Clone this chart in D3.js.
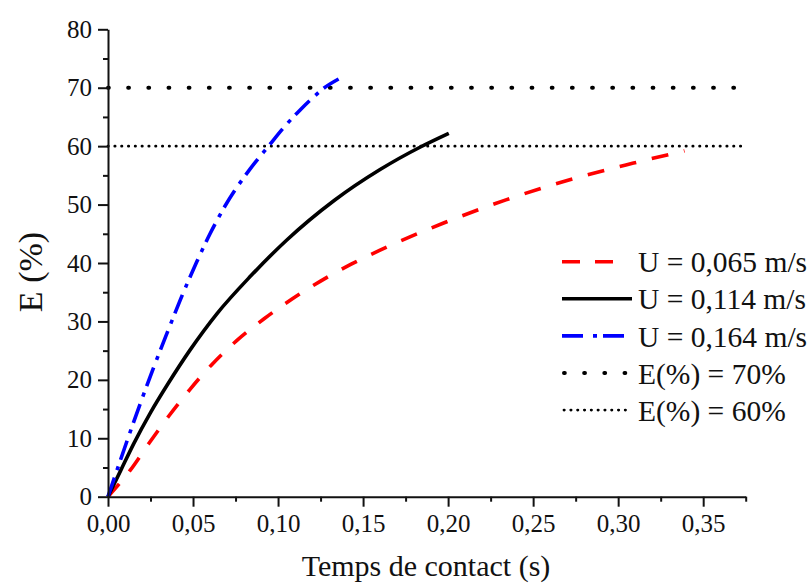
<!DOCTYPE html>
<html>
<head>
<meta charset="utf-8">
<script src="https://cdn.jsdelivr.net/npm/d3@7"></script>
<style>
  html, body { margin: 0; padding: 0; background: #fff; }
  svg { display: block; }
  svg text { font-family: "Liberation Serif", "Times New Roman", serif !important; fill: #111; }
</style>
</head>
<body>
<svg id="chart" width="812" height="583"></svg>
<script>
// ---- data ----
const seriesNames = ["U = 0,065 m/s", "U = 0,114 m/s", "U = 0,164 m/s"];
const refNames = ["E(%) = 70%", "E(%) = 60%"];
const refValues = [70, 60];

const tRed = [0, 0.013, 0.024, 0.036, 0.048, 0.061, 0.076, 0.092, 0.108, 0.125, 0.143, 0.160, 0.197, 0.234, 0.272, 0.309, 0.339];
const eRed = [0, 4.5, 9.1, 13.9, 18.3, 22.6, 26.8, 30.5, 33.8, 36.9, 39.8, 42.2, 46.8, 50.8, 54.3, 57.1, 59.2];

const tBlack = [0, 0.0075, 0.015, 0.025, 0.035, 0.048, 0.064, 0.084, 0.105, 0.133, 0.160, 0.184, 0.2004];
const eBlack = [0, 4.5, 9.0, 14.4, 19.2, 25.0, 31.3, 37.8, 43.9, 50.7, 56.0, 59.9, 62.2];

const tBlue = [0, 0.007, 0.0139, 0.0198, 0.0267, 0.0346, 0.0424, 0.0522, 0.060, 0.0689, 0.0836, 0.0944, 0.104, 0.113, 0.1205, 0.1268, 0.1356];
const eBlue = [0, 6.0, 11.8, 16.6, 22.0, 27.9, 33.6, 40.2, 45.0, 49.8, 56.1, 60.0, 63.4, 66.2, 68.3, 69.9, 71.5];

const xMajorTicks = [0, 0.05, 0.10, 0.15, 0.20, 0.25, 0.30, 0.35];
const xMinorTicks = [0.025, 0.075, 0.125, 0.175, 0.225, 0.275, 0.325, 0.375];
const yMajorTicks = [0, 10, 20, 30, 40, 50, 60, 70, 80];
const yMinorTicks = [5, 15, 25, 35, 45, 55, 65, 75];

const xLabel = "Temps de contact (s)";
const yLabel = "E (%)";

// ---- layout ----
const FONT = '"Liberation Serif", "Times New Roman", serif';
const svg = d3.select("#chart");
const mLeft = 108, mRight = 745.7, mTop = 29.3, mBottom = 496.7;

const x = d3.scaleLinear().domain([0, 0.375]).range([mLeft, mRight]);
const y = d3.scaleLinear().domain([0, 80]).range([mBottom, mTop]);

const styles = [
  { color: "#ff0000", width: 3.6, dash: "17,16", legendDash: "18,15", len: 51 },
  { color: "#000000", width: 3.6, dash: null, legendDash: null, len: 70 },
  { color: "#0000ff", width: 3.6, dash: "20,8,4,7", legendDash: "21,10,4,6", len: 63 }
];
const refStyles = [
  { width: 4, dash: "0.8,19.37", cap: "round", len: 66 },
  { width: 2.8, dash: "0.3,6.5", cap: "round", len: 64 }
];

// reference lines
const refG = svg.append("g");
refValues.forEach((v, i) => {
  refG.append("line")
    .attr("x1", x(0)).attr("x2", x(0.375))
    .attr("y1", y(v)).attr("y2", y(v))
    .attr("stroke", "#000")
    .attr("stroke-width", refStyles[i].width)
    .attr("stroke-dasharray", refStyles[i].dash)
    .attr("stroke-linecap", refStyles[i].cap);
});

// curves
const line = d3.line().x(d => x(d[0])).y(d => y(d[1])).curve(d3.curveMonotoneX);
const seriesData = [
  d3.zip(tRed, eRed),
  d3.zip(tBlack, eBlack),
  d3.zip(tBlue, eBlue)
];
seriesData.forEach((data, i) => {
  svg.append("path")
    .datum(data)
    .attr("d", line)
    .attr("fill", "none")
    .attr("stroke", styles[i].color)
    .attr("stroke-width", styles[i].width)
    .attr("stroke-dasharray", styles[i].dash)
    .attr("stroke-linejoin", "round");
});

// axes
function styleAxis(g) {
  g.attr("font-family", null).style("font-family", FONT);
  g.selectAll(".domain").attr("stroke", "#111").attr("stroke-width", 2);
  g.selectAll(".tick line").attr("stroke", "#111").attr("stroke-width", 2);
  g.selectAll("text").style("font-family", FONT)
    .attr("font-size", 25).attr("fill", "#111");
}

const fmtX = d => d3.format(".2f")(d).replace(".", ",");

const gx = svg.append("g").attr("transform", `translate(0,${mBottom})`)
  .call(d3.axisBottom(x).tickValues(xMajorTicks).tickFormat(fmtX)
    .tickSize(10).tickSizeOuter(0).tickPadding(8));
styleAxis(gx);
const gxm = svg.append("g").attr("transform", `translate(0,${mBottom})`)
  .call(d3.axisBottom(x).tickValues(xMinorTicks).tickFormat("").tickSize(5).tickSizeOuter(0));
styleAxis(gxm);
gxm.select(".domain").remove();

const gy = svg.append("g").attr("transform", `translate(${mLeft},0)`)
  .call(d3.axisLeft(y).tickValues(yMajorTicks).tickFormat(d3.format("d"))
    .tickSize(10).tickSizeOuter(0).tickPadding(6));
styleAxis(gy);
const gym = svg.append("g").attr("transform", `translate(${mLeft},0)`)
  .call(d3.axisLeft(y).tickValues(yMinorTicks).tickFormat("").tickSize(5).tickSizeOuter(0));
styleAxis(gym);
gym.select(".domain").remove();

// axis titles
svg.append("text")
  .attr("x", 426).attr("y", 576)
  .attr("text-anchor", "middle")
  .attr("font-size", 30)
  .style("font-family", FONT)
  .text(xLabel);

svg.append("text")
  .attr("transform", "translate(41.5,272) rotate(-90)")
  .attr("text-anchor", "middle")
  .attr("font-size", 34)
  .style("font-family", FONT)
  .text(yLabel);

// legend
const lgX = 562, lgTextX = 638, lgY0 = 261.7, lgStep = 37.1;
const legendItems = [
  ...seriesNames.map((n, i) => ({ name: n, stroke: styles[i].color, width: styles[i].width, dash: styles[i].legendDash, cap: "butt", len: styles[i].len })),
  ...refNames.map((n, i) => ({ name: n, stroke: "#000", width: refStyles[i].width, dash: refStyles[i].dash, cap: refStyles[i].cap, len: refStyles[i].len }))
];
const lg = svg.append("g");
legendItems.forEach((it, i) => {
  const yy = lgY0 + i * lgStep;
  lg.append("line")
    .attr("x1", lgX + (it.cap === "round" ? 2 : 0)).attr("x2", lgX + it.len)
    .attr("y1", yy).attr("y2", yy)
    .attr("stroke", it.stroke)
    .attr("stroke-width", it.width)
    .attr("stroke-dasharray", it.dash)
    .attr("stroke-linecap", it.cap);
  lg.append("text")
    .attr("x", lgTextX).attr("y", yy + 10.6)
    .attr("font-size", 29.5)
    .style("font-family", FONT)
    .text(it.name);
});
</script>
</body>
</html>
